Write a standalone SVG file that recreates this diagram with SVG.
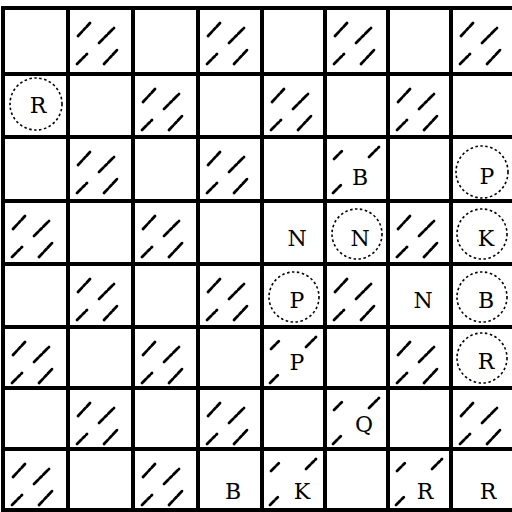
<svg xmlns="http://www.w3.org/2000/svg" xmlns:xlink="http://www.w3.org/1999/xlink" width="512" height="512" viewBox="0 0 512 512">
<style>
.grid line{stroke:#000;stroke-width:4;stroke-linecap:square}
.h{stroke:#000;stroke-width:2.8;stroke-linecap:round;stroke-dasharray:6 2 3 2}
.ring{fill:none;stroke:#000;stroke-width:1.6;stroke-dasharray:2.5 2.5}
.pc{font-family:"DejaVu Serif","Liberation Serif",serif;font-size:22px;fill:#000;text-anchor:middle}
</style>
<defs>
<g id="hf">
<line class="h" x1="10" y1="28" x2="22" y2="15"/>
<line class="h" x1="31" y1="35" x2="46" y2="20"/>
<line class="h" x1="9" y1="56" x2="19" y2="46"/>
<line class="h" x1="36" y1="56" x2="50" y2="41"/>
</g>
<g id="hp">
<line class="h" x1="9" y1="22" x2="17" y2="14"/>
<line class="h" x1="44" y1="20" x2="54" y2="10"/>
<line class="h" x1="8" y1="56" x2="16" y2="48"/>
</g>
</defs>
<rect width="512" height="512" fill="#fff"/>
<g id="hatching">
<use xlink:href="#hf" x="68" y="8"/>
<use xlink:href="#hf" x="198" y="8"/>
<use xlink:href="#hf" x="325" y="8"/>
<use xlink:href="#hf" x="451" y="8"/>
<use xlink:href="#hf" x="133" y="74"/>
<use xlink:href="#hf" x="262" y="74"/>
<use xlink:href="#hf" x="388" y="74"/>
<use xlink:href="#hf" x="68" y="137"/>
<use xlink:href="#hf" x="198" y="137"/>
<use xlink:href="#hp" x="325" y="137"/>
<use xlink:href="#hf" x="3" y="201"/>
<use xlink:href="#hf" x="133" y="201"/>
<use xlink:href="#hf" x="388" y="201"/>
<use xlink:href="#hf" x="68" y="264"/>
<use xlink:href="#hf" x="198" y="264"/>
<use xlink:href="#hf" x="325" y="264"/>
<use xlink:href="#hf" x="3" y="327"/>
<use xlink:href="#hf" x="133" y="327"/>
<use xlink:href="#hp" x="262" y="327"/>
<use xlink:href="#hf" x="388" y="327"/>
<use xlink:href="#hf" x="68" y="388"/>
<use xlink:href="#hf" x="198" y="388"/>
<use xlink:href="#hp" x="325" y="388"/>
<use xlink:href="#hf" x="451" y="388"/>
<use xlink:href="#hf" x="3" y="449"/>
<use xlink:href="#hf" x="133" y="449"/>
<use xlink:href="#hp" x="262" y="449"/>
<use xlink:href="#hp" x="388" y="449"/>
</g>
<g class="grid" id="grid">
<line x1="3" y1="8" x2="3" y2="510"/>
<line x1="68" y1="8" x2="68" y2="510"/>
<line x1="133" y1="8" x2="133" y2="510"/>
<line x1="198" y1="8" x2="198" y2="510"/>
<line x1="262" y1="8" x2="262" y2="510"/>
<line x1="325" y1="8" x2="325" y2="510"/>
<line x1="388" y1="8" x2="388" y2="510"/>
<line x1="451" y1="8" x2="451" y2="510"/>
<line x1="3" y1="8" x2="512" y2="8"/>
<line x1="3" y1="74" x2="512" y2="74"/>
<line x1="3" y1="137" x2="512" y2="137"/>
<line x1="3" y1="201" x2="512" y2="201"/>
<line x1="3" y1="264" x2="512" y2="264"/>
<line x1="3" y1="327" x2="512" y2="327"/>
<line x1="3" y1="388" x2="512" y2="388"/>
<line x1="3" y1="449" x2="512" y2="449"/>
<line x1="3" y1="510" x2="512" y2="510"/>
</g>
<g id="pieces">
<g id="a7"><circle class="ring" cx="36" cy="104" r="26"/><text class="pc" x="38" y="113">R</text></g>
<g id="f6"><text class="pc" x="360" y="185">B</text></g>
<g id="h6"><circle class="ring" cx="482" cy="172" r="26"/><text class="pc" x="487" y="184">P</text></g>
<g id="e5"><text class="pc" x="297" y="246">N</text></g>
<g id="f5"><circle class="ring" cx="357" cy="234" r="25"/><text class="pc" x="360" y="246">N</text></g>
<g id="h5"><circle class="ring" cx="482" cy="234" r="25"/><text class="pc" x="486" y="246">K</text></g>
<g id="e4"><circle class="ring" cx="294" cy="297" r="25"/><text class="pc" x="297" y="308">P</text></g>
<g id="g4"><text class="pc" x="423" y="308">N</text></g>
<g id="h4"><circle class="ring" cx="482" cy="297" r="25"/><text class="pc" x="486" y="308">B</text></g>
<g id="e3"><text class="pc" x="297" y="370">P</text></g>
<g id="h3"><circle class="ring" cx="482" cy="358" r="25"/><text class="pc" x="486" y="369">R</text></g>
<g id="f2"><text class="pc" x="364" y="432">Q</text></g>
<g id="d1"><text class="pc" x="233" y="499">B</text></g>
<g id="e1"><text class="pc" x="302" y="499">K</text></g>
<g id="g1"><text class="pc" x="425" y="499">R</text></g>
<g id="h1"><text class="pc" x="488" y="499">R</text></g>
</g>
</svg>
